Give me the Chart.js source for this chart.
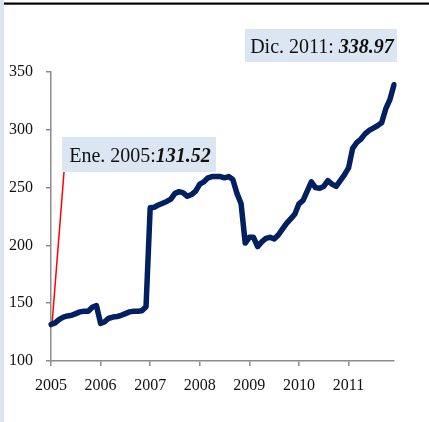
<!DOCTYPE html>
<html>
<head>
<meta charset="utf-8">
<script src="https://cdn.jsdelivr.net/npm/chart.js@4.4.1/dist/chart.umd.min.js"></script>
<style>
  html, body { margin: 0; padding: 0; background: #fff; }
  #wrap { width: 429px; height: 422px; position: relative; }
</style>
</head>
<body>
<div id="wrap"><canvas id="c"></canvas></div>
<script>
const mesNombres = ['Ene.', 'Feb.', 'Mar.', 'Abr.', 'May.', 'Jun.', 'Jul.', 'Ago.', 'Sep.', 'Oct.', 'Nov.', 'Dic.'];
const years = ['2005', '2006', '2007', '2008', '2009', '2010', '2011'];
const yTicks = [100, 150, 200, 250, 300, 350];

// índice mensual, ene 2005 - dic 2011
const indice = [
  131.52, 133, 136, 138, 139, 139.5, 141, 142.5, 143, 143, 146.5, 148,
  132.5, 134, 137, 138, 138.5, 139.5, 141, 142.5, 143, 143, 143.5, 147,
  232.5, 233, 235, 236.5, 238, 240, 245, 246.5, 245.5, 242.5, 244, 247,
  253, 255, 258.5, 259.5, 259.5, 259.5, 258.5, 259.5, 257, 245, 236, 202,
  207, 207, 199, 203, 206, 207, 205.5, 209, 214, 219, 223, 227,
  236, 239, 247, 255, 250, 249.5, 251, 256, 253, 251, 256, 261,
  267, 284, 289, 292, 296.5, 299.5, 301.5, 303.5, 306, 318, 326, 338.97
];

const labels = [];
years.forEach(y => mesNombres.forEach(m => labels.push(m + ' ' + y)));

const callouts = [
  { label: 'Dic. 2011: ', value: '338.97' },
  { label: 'Ene. 2005:', value: '131.52' }
];

const SERIF = '"Liberation Serif", "DejaVu Serif", serif';
const axisGray = '#8c8c8c';

function drawCallout(ctx, c, x, y, w, h) {
  ctx.save();
  ctx.fillStyle = '#dce6f2';
  ctx.fillRect(x, y, w, h);
  ctx.fillStyle = '#111';
  ctx.textBaseline = 'alphabetic';
  ctx.font = '20px ' + SERIF;
  const w1 = ctx.measureText(c.label).width;
  ctx.font = 'italic bold 20px ' + SERIF;
  const w2 = ctx.measureText(c.value).width;
  const tx = x + (w - w1 - w2) / 2 + 1;
  const ty = y + h / 2 + 7;
  ctx.font = '20px ' + SERIF;
  ctx.fillText(c.label, tx, ty);
  ctx.font = 'italic bold 20px ' + SERIF;
  ctx.fillText(c.value, tx + w1, ty);
  ctx.restore();
}

const decor = {
  id: 'decor',
  beforeDraw(chart) {
    const ctx = chart.ctx;
    ctx.save();
    ctx.fillStyle = '#dce6f2';
    ctx.fillRect(0, 0, 4, chart.height);
    ctx.fillStyle = '#000';
    ctx.fillRect(4, 2.5, chart.width - 4, 2.2);
    ctx.restore();
  },
  beforeDatasetsDraw(chart) {
    const ctx = chart.ctx;
    const x = chart.scales.x.getPixelForValue(0);
    const y = chart.scales.y.getPixelForValue(indice[0]);
    ctx.save();
    ctx.strokeStyle = '#ff0000';
    ctx.lineWidth = 1.5;
    ctx.beginPath();
    ctx.moveTo(x + 1, y);
    ctx.lineTo(64, 172);
    ctx.stroke();
    ctx.restore();
  },
  afterDraw(chart) {
    const ctx = chart.ctx;
    drawCallout(ctx, callouts[0], 245, 29, 152, 33);
    drawCallout(ctx, callouts[1], 62, 137, 154, 35);
  }
};

new Chart(document.getElementById('c'), {
  type: 'line',
  data: {
    labels: labels,
    datasets: [{
      data: indice,
      borderColor: '#002060',
      borderWidth: 5.5,
      pointRadius: 0,
      tension: 0,
      fill: false,
      borderJoinStyle: 'round',
      borderCapStyle: 'round'
    }]
  },
  options: {
    responsive: true,
    maintainAspectRatio: false,
    animation: false,
    layout: { padding: { top: 72, right: 35, left: 0, bottom: 0 } },
    plugins: {
      legend: { display: false },
      tooltip: { enabled: false }
    },
    scales: {
      x: {
        type: 'category',
        offset: false,
        afterBuildTicks: (s) => { s.ticks = s.ticks.filter(t => t.value % 12 === 0); },
        afterFit: (s) => { s.height = 61; },
        grid: { drawOnChartArea: false, drawTicks: true, tickLength: 5, color: axisGray, lineWidth: 1.5 },
        border: { color: axisGray, width: 1.5 },
        ticks: {
          autoSkip: false,
          maxRotation: 0,
          padding: 10,
          color: '#111',
          font: { size: 16, family: SERIF },
          callback: (v) => years[v / 12]
        }
      },
      y: {
        min: 100,
        max: 350,
        afterBuildTicks: (s) => { s.ticks = yTicks.map(v => ({ value: v })); },
        afterFit: (s) => { s.width = 51; },
        grid: { drawOnChartArea: false, drawTicks: true, tickLength: 5, color: axisGray, lineWidth: 1.5 },
        border: { color: axisGray, width: 1.5 },
        ticks: {
          padding: 13,
          color: '#111',
          font: { size: 16, family: SERIF }
        }
      }
    }
  },
  plugins: [decor]
});
</script>
</body>
</html>
